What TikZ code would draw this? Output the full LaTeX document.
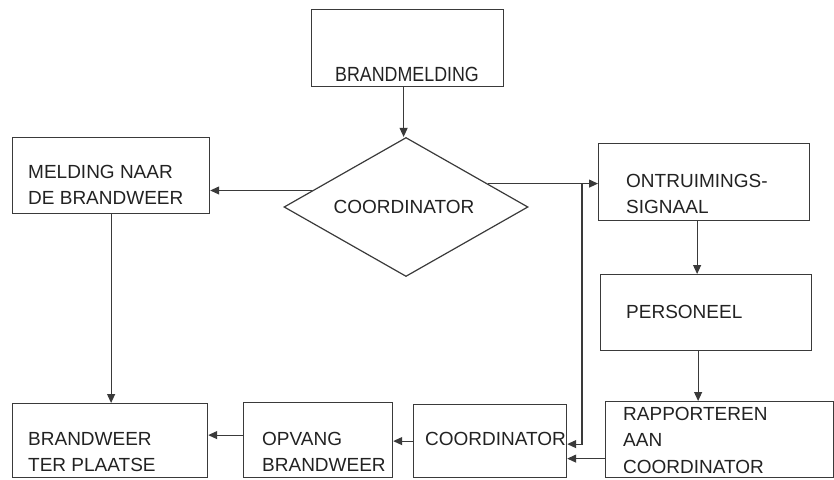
\documentclass[tikz,border=0pt]{standalone}
\usepackage{fontspec}
\setmainfont{Liberation Sans}
\usetikzlibrary{shapes.geometric,arrows.meta}
\definecolor{ln}{HTML}{3A3A3A}
\definecolor{tx}{HTML}{222222}
\tikzset{
  box/.style={draw=ln, line width=1.2pt, inner sep=0pt, anchor=north west},
  txt/.style={text=tx, font=\fontsize{19}{26.5}\selectfont, align=left, inner sep=0pt, anchor=west},
  arr/.style={draw=ln, line width=1.1pt, -{Triangle[length=9pt,width=8pt]}},
}
\begin{document}
\begin{tikzpicture}[x=1pt,y=-1pt]
\useasboundingbox (0,0) rectangle (834,479);
% boxes
\node[box, minimum width=192pt, minimum height=77pt] (bm) at (311,9) {};
\node[txt, anchor=center] (bmT) at (407,74) {\scalebox{0.87}[1]{\fontsize{20.5}{24}\selectfont BRANDMELDING}};
\node[draw=ln, line width=1.2pt, diamond, aspect=1.755, minimum width=244pt, minimum height=139pt, inner sep=0pt] (dia) at (406,207) {};
\node[txt, anchor=center] (diaT) at (404,207) {COORDINATOR};
\node[box, minimum width=197pt, minimum height=76pt] (mel) at (12,137) {};
\node[txt] (melT) at (28,185) {MELDING NAAR\\DE BRANDWEER};
\node[box, minimum width=211pt, minimum height=77pt] (ont) at (598,143) {};
\node[txt] (ontT) at (626,194) {ONTRUIMINGS-\\SIGNAAL};
\node[box, minimum width=211pt, minimum height=76pt] (per) at (600,274) {};
\node[txt] (perT) at (626,312) {PERSONEEL};
\node[box, minimum width=228pt, minimum height=76pt] (rap) at (605,401) {};
\node[txt] (rapT) at (623,440) {RAPPORTEREN\\AAN\\COORDINATOR};
\node[box, minimum width=153pt, minimum height=73pt] (cob) at (413,404) {};
\node[txt] (cobT) at (425,439) {COORDINATOR};
\node[box, minimum width=149pt, minimum height=75pt] (opv) at (243,402) {};
\node[txt] (opvT) at (262,452) {OPVANG\\BRANDWEER};
\node[box, minimum width=195pt, minimum height=74pt] (bwp) at (12,403) {};
\node[txt] (bwpT) at (28,452) {BRANDWEER\\TER PLAATSE};
% connectors
\draw[arr] ([xshift=-4pt]bm.south) -- ([xshift=-4pt]bm.south |- dia.north);
\draw[arr] (dia.170) -- (dia.170 -| mel.east);
\draw[arr] (dia.16) -- (dia.16 -| ont.west);
\coordinate (j) at (582,184);
\draw[arr] (j) |- ([yshift=-3pt]cob.east);
\draw[arr] ([xshift=-7pt]ont.south) -- ([xshift=-7pt]ont.south |- per.north);
\draw[arr] ([xshift=-8pt]per.south) -- ([xshift=-8pt]per.south |- rap.north);
\draw[arr] ([yshift=-19pt]rap.west) -- ([yshift=-19pt]rap.west -| cob.east);
\draw[arr] (cob.west) -- (cob.west -| opv.east);
\draw[arr] ([yshift=5pt]opv.west) -- ([yshift=5pt]opv.west -| bwp.east);
\draw[arr] (mel.south) -- (mel.south |- bwp.north);
\end{tikzpicture}
\end{document}
